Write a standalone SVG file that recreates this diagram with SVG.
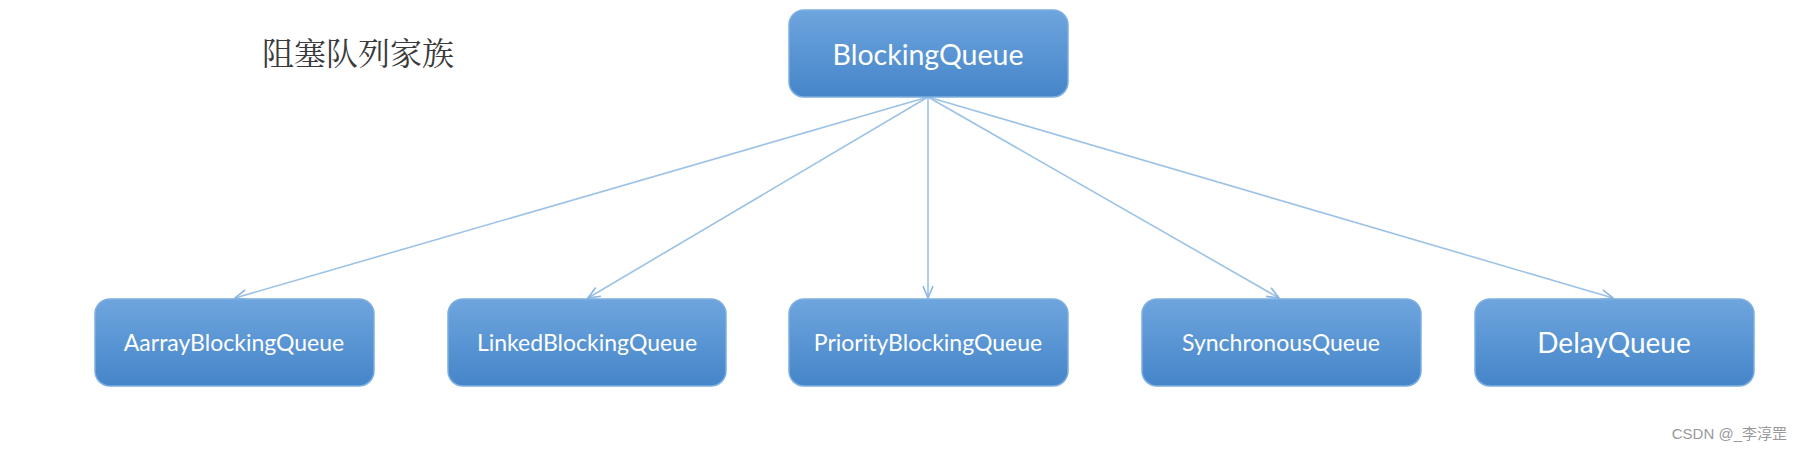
<svg xmlns="http://www.w3.org/2000/svg" width="1802" height="452" viewBox="0 0 1802 452">
<defs>
<linearGradient id="g" x1="0" y1="0" x2="0" y2="1">
<stop offset="0" stop-color="#6ea5de"/>
<stop offset="1" stop-color="#4585c9"/>
</linearGradient>
<marker id="arr" markerWidth="16" markerHeight="12" refX="13" refY="6" orient="auto" markerUnits="userSpaceOnUse">
<path d="M1,1 L13,6 L1,11" fill="none" stroke="#8ab6e0" stroke-width="1.6"/>
</marker>
<style>
.box{fill:url(#g);stroke:#7eaee0;stroke-width:1.5}
.t{font-family:Lato,"Open Sans",sans-serif;fill:#ffffff;text-anchor:middle;dominant-baseline:central}
.c{stroke:#9cc2e6;stroke-width:1.6;fill:none;marker-end:url(#arr)}
</style>
</defs>
<rect width="1802" height="452" fill="#ffffff"/>
<text x="262" y="65" font-family="'Noto Serif CJK SC','Noto Sans CJK SC',serif" font-size="32" fill="#3a3a3a">阻塞队列家族</text>
<g id="connectors">
<line class="c" x1="928" y1="97" x2="235" y2="298"/>
<line class="c" x1="928" y1="97" x2="588" y2="298"/>
<line class="c" x1="928" y1="97" x2="928" y2="298"/>
<line class="c" x1="928" y1="97" x2="1279" y2="298"/>
<line class="c" x1="928" y1="97" x2="1613" y2="298"/>
</g>
<g id="BlockingQueue"><rect class="box" x="789" y="10" width="279" height="87" rx="15"/><text class="t" x="928" y="54" font-size="28.5">BlockingQueue</text></g>
<g id="AarrayBlockingQueue"><rect class="box" x="95" y="299" width="279" height="87" rx="15"/><text class="t" x="234" y="342" font-size="23">AarrayBlockingQueue</text></g>
<g id="LinkedBlockingQueue"><rect class="box" x="448" y="299" width="278" height="87" rx="15"/><text class="t" x="587" y="342" font-size="23">LinkedBlockingQueue</text></g>
<g id="PriorityBlockingQueue"><rect class="box" x="789" y="299" width="279" height="87" rx="15"/><text class="t" x="928" y="342" font-size="23">PriorityBlockingQueue</text></g>
<g id="SynchronousQueue"><rect class="box" x="1142" y="299" width="279" height="87" rx="15"/><text class="t" x="1281" y="342" font-size="23">SynchronousQueue</text></g>
<g id="DelayQueue"><rect class="box" x="1475" y="299" width="279" height="87" rx="15"/><text class="t" x="1614" y="342" font-size="28">DelayQueue</text></g>
<text x="1787" y="439" text-anchor="end" font-family="'Liberation Sans','Noto Sans CJK SC',sans-serif" font-size="15" fill="#9a9a9a">CSDN @_李淳罡</text>
</svg>
